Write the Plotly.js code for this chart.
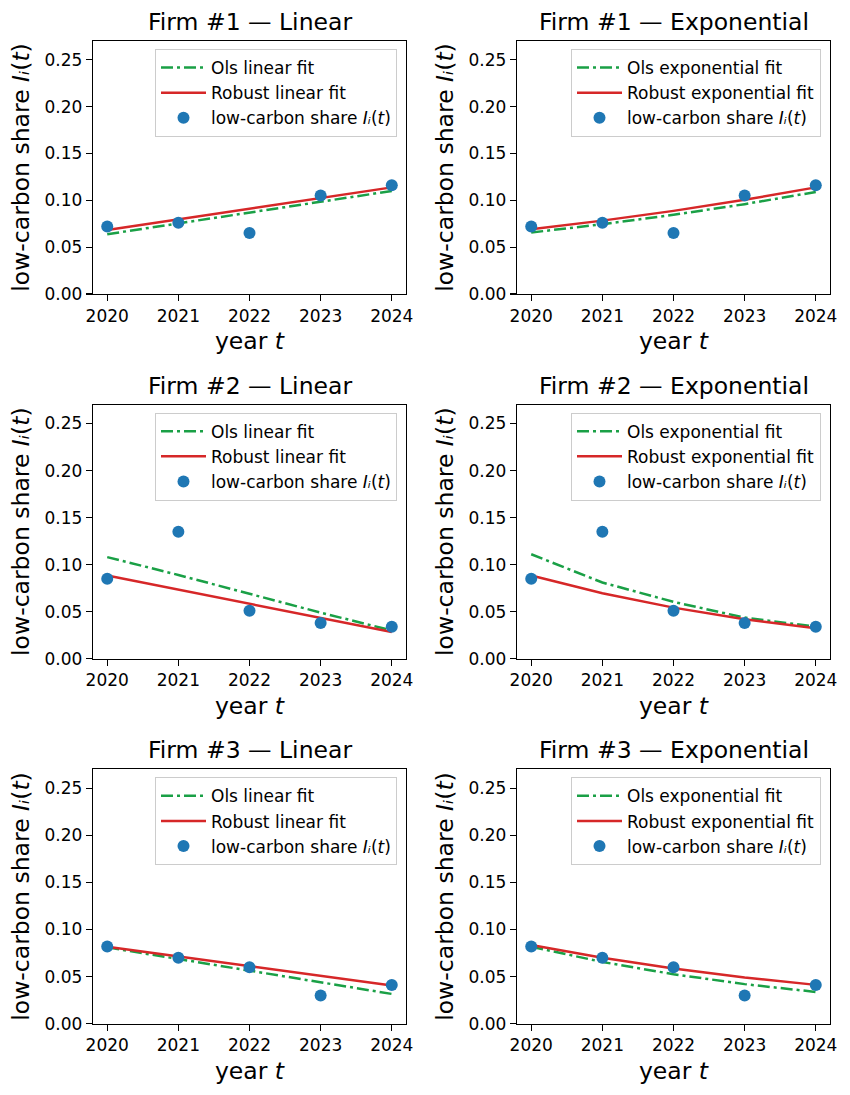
<!DOCTYPE html>
<html>
<head>
<meta charset="utf-8">
<script src="https://cdn.plot.ly/plotly-3.0.1.min.js"></script>
<style>html,body{margin:0;padding:0;background:#fff;}#chart{width:850px;height:1095px;}</style>
</head>
<body>
<div id="chart"></div>
<script>
// ---- data ----
const years = [2020, 2021, 2022, 2023, 2024];
const yTicks = [0, 0.05, 0.10, 0.15, 0.20, 0.25];

const firm1Share = [0.072, 0.076, 0.065, 0.105, 0.116];
const firm2Share = [0.085, 0.135, 0.051, 0.038, 0.034];
const firm3Share = [0.082, 0.070, 0.060, 0.030, 0.041];

const firm1OlsLin = [0.0638, 0.0754, 0.0869, 0.0985, 0.1100];
const firm1RobLin = [0.0684, 0.0798, 0.0911, 0.1025, 0.1138];
const firm1OlsExp = [0.0656, 0.0745, 0.0845, 0.0959, 0.1089];
const firm1RobExp = [0.0691, 0.0783, 0.0887, 0.1005, 0.1138];

const firm2OlsLin = [0.108, 0.089, 0.069, 0.049, 0.030];
const firm2RobLin = [0.0884, 0.0734, 0.0584, 0.0434, 0.0284];
const firm2OlsExp = [0.111, 0.081, 0.0604, 0.0437, 0.034];
const firm2RobExp = [0.0884, 0.0696, 0.0543, 0.0419, 0.0323];

const firm3OlsLin = [0.081, 0.0687, 0.0563, 0.044, 0.0316];
const firm3RobLin = [0.0817, 0.0714, 0.0611, 0.0508, 0.0405];
const firm3OlsExp = [0.0817, 0.0655, 0.0525, 0.0420, 0.0337];
const firm3RobExp = [0.0835, 0.0700, 0.0587, 0.0491, 0.0412];

const panelTitles = ["Firm #1 — Linear", "Firm #1 — Exponential",
                     "Firm #2 — Linear", "Firm #2 — Exponential",
                     "Firm #3 — Linear", "Firm #3 — Exponential"];
const fitKinds = ["linear", "exponential"];
const shareLabel = "low-carbon share <i>I\u1D62</i>(<i>t</i>)";
const yearLabel = "year <i>t</i>";

// ---- build ----
const shares = [firm1Share, firm2Share, firm3Share];
const fits = [
  [[firm1OlsLin, firm1RobLin], [firm1OlsExp, firm1RobExp]],
  [[firm2OlsLin, firm2RobLin], [firm2OlsExp, firm2RobExp]],
  [[firm3OlsLin, firm3RobLin], [firm3OlsExp, firm3RobExp]]
];

const W = 850, H = 1095;
const xPix = [[93, 406], [517, 830]];
const yPix = [[41, 294], [404.7, 658.7], [769.3, 1023.7]];

const FONT = "DejaVu Sans, Liberation Sans, sans-serif";
const GREEN = "#1aa046", RED = "#d62728", BLUE = "#1f77b4";

const data = [];
const layout = {
  width: W, height: H,
  margin: {l: 0, r: 0, t: 0, b: 0, pad: 0},
  paper_bgcolor: "#fff", plot_bgcolor: "#fff",
  font: {family: FONT, size: 17, color: "#000"},
  showlegend: true,
  annotations: []
};

for (let r = 0; r < 3; r++) {
  for (let c = 0; c < 2; c++) {
    const k = r * 2 + c + 1;
    const xa = k === 1 ? "x" : "x" + k;
    const ya = k === 1 ? "y" : "y" + k;
    const lg = k === 1 ? "legend" : "legend" + k;
    const kind = fitKinds[c];
    const [ols, rob] = fits[r][c];

    data.push({x: years, y: ols, xaxis: xa, yaxis: ya, legend: lg, type: "scatter", mode: "lines",
      name: "Ols " + kind + " fit", line: {color: GREEN, width: 2.5, dash: "12px,4px,3px,4px"}});
    data.push({x: years, y: rob, xaxis: xa, yaxis: ya, legend: lg, type: "scatter", mode: "lines",
      name: "Robust " + kind + " fit", line: {color: RED, width: 2.5}});
    data.push({x: years, y: shares[r], xaxis: xa, yaxis: ya, legend: lg, type: "scatter", mode: "markers",
      name: shareLabel, marker: {color: BLUE, size: 12}});

    const dx = [xPix[c][0] / W, xPix[c][1] / W];
    const dy = [1 - yPix[r][1] / H, 1 - yPix[r][0] / H];
    const axName = k === 1 ? "" : String(k);

    layout["xaxis" + axName] = {
      domain: dx, anchor: ya, range: [2019.8, 2024.2],
      tickvals: years, ticktext: years.map(String),
      ticks: "outside", ticklen: 6, tickwidth: 1.2, tickcolor: "#000",
      showline: true, mirror: true, linecolor: "#000", linewidth: 1.2,
      showgrid: false, zeroline: false,
      tickfont: {family: FONT, size: 17, color: "#000"},
      title: {text: yearLabel, font: {family: FONT, size: 23.5, color: "#000"}, standoff: 8}
    };
    layout["yaxis" + axName] = {
      domain: dy, anchor: xa, range: [0, 0.27],
      tickvals: yTicks, tickformat: ".2f",
      ticks: "outside", ticklen: 6, tickwidth: 1.2, tickcolor: "#000",
      showline: true, mirror: true, linecolor: "#000", linewidth: 1.2,
      showgrid: false, zeroline: false,
      tickfont: {family: FONT, size: 17, color: "#000"},
      title: {text: shareLabel, font: {family: FONT, size: 23.5, color: "#000"}, standoff: 8}
    };
    layout[lg] = {
      x: (xPix[c][1] - 9) / W, xanchor: "right",
      y: 1 - (yPix[r][0] + 8) / H, yanchor: "top",
      bgcolor: "rgba(255,255,255,0.8)", bordercolor: "#cccccc", borderwidth: 1,
      itemwidth: 45,
      font: {family: FONT, size: 17, color: "#000"}
    };
    layout.annotations.push({
      text: panelTitles[k - 1], xref: "paper", yref: "paper",
      x: (dx[0] + dx[1]) / 2, y: dy[1], xanchor: "center", yanchor: "bottom",
      yshift: 3, showarrow: false,
      font: {family: FONT, size: 23.5, color: "#000"}
    });
  }
}

Plotly.newPlot("chart", data, layout, {displayModeBar: false, staticPlot: true});
</script>
</body>
</html>
